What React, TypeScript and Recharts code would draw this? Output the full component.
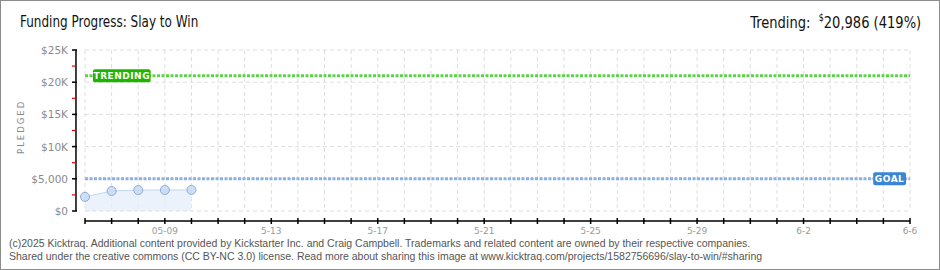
import React from "react";
import { ComposedChart, Area, XAxis, YAxis, CartesianGrid, ReferenceLine } from "recharts";

// 05-06 .. 06-06, one slot per day
const days = [
  "05-06","05-07","05-08","05-09","05-10","05-11","05-12","05-13","05-14","05-15","05-16",
  "05-17","05-18","05-19","05-20","05-21","05-22","05-23","05-24","05-25","05-26","05-27",
  "05-28","05-29","05-30","05-31","06-01","06-02","06-03","06-04","06-05","06-06",
];
const dayLabels: Record<number,string> = { 3:"05-09", 7:"5-13", 11:"5-17", 15:"5-21", 19:"5-25", 23:"5-29", 27:"6-2", 31:"6-6" };
const pledged = [2200, 3100, 3250, 3260, 3270];
const goal = 5000;
const trending = 20986;
const yMajor = [0, 5000, 10000, 15000, 20000, 25000];
const yMinor = [2500, 7500, 12500, 17500, 22500];
const yLabels: Record<number,string> = { 0:"$0", 5000:"$5,000", 10000:"$10K", 15000:"$15K", 20000:"$20K", 25000:"$25K" };

const data = pledged.map((v, i) => ({ day: i, date: days[i], pledged: v }));
const xTicks = days.map((_, i) => i);
const yTicks = [...yMajor, ...yMinor].sort((a,b)=>a-b);

const pixelFont = "'DejaVu Sans', sans-serif";

const XTick = (p:any) => {
  const { x, y, payload } = p;
  const lbl = dayLabels[payload.value];
  return (
    <g>
      <line x1={x} x2={x} y1={y+7} y2={y+13} stroke="#000" strokeWidth={1.5} />
      {lbl && <text x={x} y={y+23} textAnchor="middle" fontSize={9} fill="#9a9a9a" fontFamily={pixelFont}>{lbl}</text>}
    </g>
  );
};

const YTick = (p:any) => {
  const { x, y, payload } = p;
  const major = payload.value % 5000 === 0;
  return (
    <g>
      <line x1={x-13} x2={major ? x-8 : x-9} y1={y} y2={y} stroke={major ? "#000" : "#e00000"} strokeWidth={major ? 1.5 : 1.2} />
      {major && <text x={x-17} y={y+4} textAnchor="end" fontSize={10.5} fill="#8a8a8a" fontFamily={pixelFont}>{yLabels[payload.value]}</text>}
    </g>
  );
};

const Badge = ({ viewBox, text, fill, side }:any) => {
  const w = text.length * 6.2 + 8;
  const bx = side === "left" ? viewBox.x + 8 : viewBox.x + viewBox.width - 4 - w;
  return (
    <g>
      <rect x={bx} y={viewBox.y - 6.5} width={w} height={13} rx={2} fill={fill} />
      <text x={bx + w/2} y={viewBox.y + 3.5} textAnchor="middle" fontSize={9} fontWeight="bold" fill="#fff" fontFamily={pixelFont} letterSpacing={0.5}>{text}</text>
    </g>
  );
};

export default function App(){
  return (
    <div style={{ position:"fixed", left:0, top:0, width:940, height:270, background:"#fff", boxSizing:"border-box", border:"1px solid #8c8c8c", fontFamily:"'DejaVu Sans Condensed', sans-serif" }}>
      <div style={{ position:"absolute", left:19, top:11, fontSize:16.5, color:"#111", whiteSpace:"nowrap", transform:"scaleX(0.81)", transformOrigin:"left top" }}>Funding Progress: Slay to Win</div>
      <div style={{ position:"absolute", right:18, top:11, fontSize:16.5, color:"#111", whiteSpace:"nowrap", transform:"scaleX(0.88)", transformOrigin:"right top" }}>
        Trending:&nbsp; <sup style={{ fontSize:10 }}>$</sup>20,986 (419%)
      </div>
      <div style={{ position:"absolute", left:-4, top:124, width:48, textAlign:"center", transform:"rotate(-90deg)", transformOrigin:"center", fontSize:8.5, letterSpacing:2, color:"#8a8a8a", fontFamily:pixelFont }}>PLEDGED</div>
      <div style={{ position:"absolute", left:0, top:0 }}>
        <ComposedChart width={938} height={268} data={data} margin={{ top:49, right:29, left:0, bottom:0 }}>
          <CartesianGrid stroke="#dedede" strokeDasharray="4 3" horizontal={false} />
          <XAxis dataKey="day" type="number" domain={[0, 31]} ticks={xTicks} interval={0} height={58} axisLine={false} tickLine={false} tickSize={0} tickMargin={0} tick={<XTick />} />
          <YAxis type="number" domain={[0, 25000]} ticks={yTicks} interval={0} width={84} axisLine={false} tickLine={false} tickSize={0} tickMargin={0} tick={<YTick />} />
          {yMajor.map(v => (
            <ReferenceLine key={v} y={v} stroke="#dedede" strokeDasharray="4 3" />
          ))}
          <ReferenceLine segment={[{ x:0, y:-1562.5 }, { x:31, y:-1562.5 }]} stroke="#000" strokeWidth={1.5} ifOverflow="visible" />
          <ReferenceLine segment={[{ x:-0.339, y:0 }, { x:-0.339, y:25000 }]} stroke="#000" strokeWidth={1.5} ifOverflow="visible" />
          <Area type="linear" dataKey="pledged" stroke="#c2d7f3" strokeWidth={1} fill="#e6effb" fillOpacity={0.8}
            dot={{ r:4.5, fill:"#c3daf7", stroke:"#91abd0", strokeWidth:1 }} isAnimationActive={false} />
          <ReferenceLine y={goal} stroke="#8db0df" strokeWidth={3} strokeDasharray="3 1.5"
            label={(props:any) => <Badge {...props} text="GOAL" fill="#3a86d4" side="right" />} />
          <ReferenceLine y={trending} stroke="#62cf4c" strokeWidth={3} strokeDasharray="3 1.5"
            label={(props:any) => <Badge {...props} text="TRENDING" fill="#1fb400" side="left" />} />
        </ComposedChart>
      </div>
      <div style={{ position:"absolute", left:8, top:236, fontSize:10.5, lineHeight:"13px", color:"#555", fontFamily:"'Liberation Sans', sans-serif", whiteSpace:"nowrap" }}>
        (c)2025 Kicktraq. Additional content provided by Kickstarter Inc. and Craig Campbell. Trademarks and related content are owned by their respective companies.<br/>
        Shared under the creative commons (CC BY-NC 3.0) license. Read more about sharing this image at www.kicktraq.com/projects/1582756696/slay-to-win/#sharing
      </div>
    </div>
  );
}
